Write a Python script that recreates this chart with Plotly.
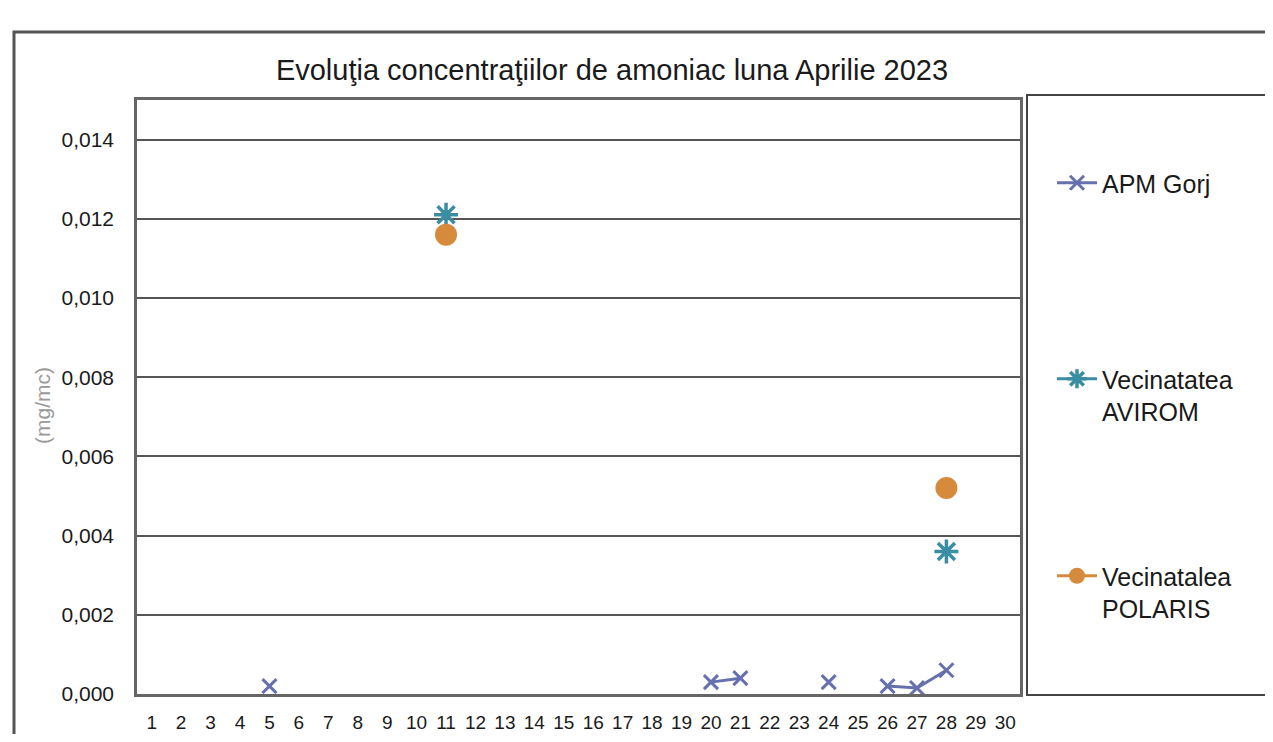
import plotly.graph_objects as go

days = list(range(1, 31))
apm_gorj = {5: 0.0002, 20: 0.0003, 21: 0.0004, 24: 0.0003, 26: 0.0002, 27: 0.00015, 28: 0.0006}
avirom = {11: 0.0121, 28: 0.0036}
polaris = {11: 0.0116, 28: 0.0052}

def series(d):
    return [d.get(x) for x in days]

title = "Evoluţia concentraţiilor de amoniac luna Aprilie 2023"
y_title = "(mg/mc)"
y_ticks = [0.000, 0.002, 0.004, 0.006, 0.008, 0.010, 0.012, 0.014]

# page offset (body margin 8px); plot area in page px: x 137..1020, y 100..694
PL, PR, PT, PB = 137, 1020, 100, 694
W, H = 1265, 726
def px(x): return (x - PL) / (PR - PL)
def py(y): return (PB - y) / (PB - PT)

FONT = "Liberation Sans, Arial, sans-serif"

fig = go.Figure()
fig.add_trace(go.Scatter(
    x=days, y=series(apm_gorj), name="APM Gorj", mode="lines+markers",
    line=dict(color="#6670AE", width=3),
    marker=dict(symbol="x-thin-open", size=14, line=dict(color="#6670AE", width=3)),
    connectgaps=False, legend="legend"))
fig.add_trace(go.Scatter(
    x=days, y=series(avirom), name="Vecinatatea<br>AVIROM", mode="lines+markers",
    line=dict(color="#3B8EA2", width=3),
    marker=dict(symbol="asterisk-open", size=20, line=dict(color="#3B8EA2", width=3.5)),
    connectgaps=False, legend="legend2"))
fig.add_trace(go.Scatter(
    x=days, y=series(polaris), name="Vecinatalea<br>POLARIS", mode="lines+markers",
    line=dict(color="#D68A3C", width=3),
    marker=dict(symbol="circle", size=22, color="#D68A3C"),
    connectgaps=False, legend="legend3"))

leg = dict(xanchor="left", yanchor="middle", font=dict(size=25, color="#1a1a1a"),
           bgcolor="rgba(0,0,0,0)", itemwidth=40, valign="top")

fig.update_layout(
    width=W, height=H,
    margin=dict(l=PL - 8, r=W - (PR - 8), t=PT - 8, b=H - (PB - 8), autoexpand=False),
    paper_bgcolor="white", plot_bgcolor="white",
    separators=",.",
    font=dict(family=FONT, color="#1a1a1a"),
    title=dict(text=title, x=(612 - 8) / W, xanchor="center", y=1 - (70 - 8) / H,
               yanchor="middle", font=dict(size=29, color="#1a1a1a")),
    showlegend=True,
    legend=dict(leg, x=px(1052), y=py(183)),
    legend2=dict(leg, x=px(1052), y=py(395)),
    legend3=dict(leg, x=px(1052), y=py(592)),
    xaxis=dict(range=[0.5, 30.5], tickmode="array", tickvals=days,
               ticktext=[str(d) for d in days], showgrid=False,
               showline=True, linecolor="#666", linewidth=2.5, mirror=True,
               ticks="", ticklabelstandoff=9,
               tickfont=dict(size=19, color="#1a1a1a")),
    yaxis=dict(range=[0, 0.015], tickmode="array", tickvals=y_ticks, tickformat=".3f",
               showgrid=True, gridcolor="#555", gridwidth=2,
               showline=True, linecolor="#666", linewidth=2.5, mirror=True,
               ticks="", ticklabelstandoff=16, zeroline=False,
               tickfont=dict(size=21, color="#1a1a1a")),
)

fig.add_annotation(text=y_title, xref="paper", yref="paper", x=px(42), y=py(406),
                   xanchor="center", yanchor="middle",
                   textangle=-90, showarrow=False,
                   font=dict(size=21, color="#999"))

fig.add_shape(type="rect", xref="paper", yref="paper",
              x0=px(14), x1=px(1280), y0=py(760), y1=py(32),
              line=dict(color="#555", width=3), layer="below")
fig.add_shape(type="rect", xref="paper", yref="paper",
              x0=px(1027), x1=px(1270), y0=py(695), y1=py(95),
              line=dict(color="#444", width=2), layer="below")

fig.write_html("out.html")
